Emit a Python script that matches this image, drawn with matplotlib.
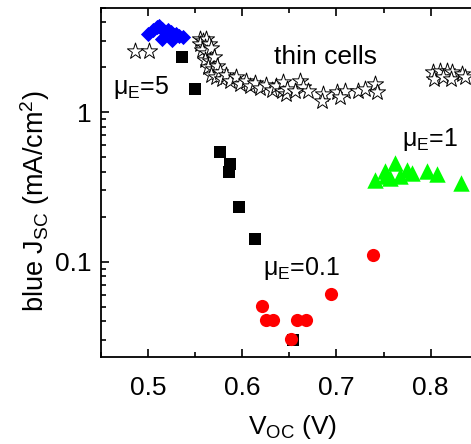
import matplotlib
matplotlib.use('Agg')
import matplotlib.pyplot as plt
from matplotlib.ticker import MultipleLocator, LogLocator, NullFormatter, FixedLocator, FixedFormatter

plt.rcParams['font.family'] = ['Liberation Sans', 'DejaVu Sans']
plt.rcParams['mathtext.fontset'] = 'custom'
plt.rcParams['mathtext.rm'] = 'Liberation Sans'
plt.rcParams['mathtext.it'] = 'Liberation Sans'

# thin cells (open stars)
star_v = [0.486, 0.501,
          0.555, 0.558, 0.561, 0.555, 0.560, 0.565, 0.557, 0.563, 0.567, 0.560,
          0.566, 0.570, 0.564, 0.569, 0.573, 0.567, 0.572, 0.576, 0.578, 0.583,
          0.587, 0.593, 0.598, 0.604, 0.608, 0.614, 0.619, 0.625, 0.632, 0.636,
          0.642, 0.646,
          0.643, 0.648, 0.661, 0.664, 0.670, 0.656, 0.686, 0.685, 0.701, 0.709,
          0.704, 0.723, 0.730, 0.741, 0.743,
          0.802, 0.810, 0.817, 0.823, 0.833, 0.804, 0.813, 0.822, 0.836]
star_j = [2.58, 2.58,
          3.10, 3.00, 3.10, 2.85, 2.75, 2.85, 2.60, 2.50, 2.70, 2.25,
          2.20, 2.35, 2.00, 1.95, 2.05, 1.78, 1.73, 1.85, 1.67, 1.77,
          1.61, 1.72, 1.54, 1.61, 1.49, 1.58, 1.45, 1.53, 1.41, 1.49,
          1.38, 1.33,
          1.59, 1.43, 1.61, 1.47, 1.38, 1.38, 1.32, 1.19, 1.36, 1.38,
          1.26, 1.38, 1.43, 1.54, 1.36,
          1.86, 1.88, 1.88, 1.86, 1.80, 1.67, 1.72, 1.67, 1.72]

# mu_E = 5 (blue diamonds)
dia_v = [0.500, 0.505, 0.509, 0.512, 0.515, 0.518, 0.521, 0.524, 0.527, 0.530,
         0.533, 0.537, 0.515, 0.525]
dia_j = [3.35, 3.55, 3.75, 3.78, 3.60, 3.45, 3.55, 3.45, 3.30, 3.35,
         3.25, 3.20, 3.10, 3.05]

# black squares
sq_v = [0.536, 0.550, 0.576, 0.587, 0.586, 0.596, 0.614, 0.654]
sq_j = [2.34, 1.43, 0.542, 0.448, 0.397, 0.233, 0.142, 0.030]

# mu_E = 0.1 (red circles)
red_v = [0.739, 0.694, 0.621, 0.625, 0.633, 0.658, 0.668, 0.652]
red_j = [0.111, 0.0607, 0.0507, 0.0404, 0.0404, 0.0404, 0.0404, 0.0303]

# mu_E = 1 (green triangles)
tri_v = [0.741, 0.751, 0.762, 0.753, 0.757, 0.767, 0.775, 0.780, 0.796, 0.807, 0.832]
tri_j = [0.355, 0.402, 0.461, 0.372, 0.366, 0.372, 0.414, 0.395, 0.402, 0.389, 0.339]

fig = plt.figure(figsize=(4.71, 4.44), dpi=100)
ax = fig.add_axes([0.2144, 0.196, 0.90, 0.786])

ax.scatter(star_v, star_j, marker='*', s=150, facecolors='white', edgecolors='black', linewidths=0.7, zorder=2)
ax.scatter(dia_v, dia_j, marker='D', s=60, color='#0000ff', linewidths=0, zorder=3)
ax.scatter(sq_v, sq_j, marker='s', s=70, color='black', linewidths=0, zorder=3)
ax.scatter(red_v, red_j, marker='o', s=90, color='#ff0000', linewidths=0, zorder=4)
ax.scatter(tri_v, tri_j, marker='^', s=140, color='#00ff00', linewidths=0, zorder=4)

ax.set_yscale('log')
ax.set_xlim(0.45, 0.90)
ax.set_ylim(0.023, 5.0)

ax.xaxis.set_major_locator(FixedLocator([0.5, 0.6, 0.7, 0.8]))
ax.xaxis.set_major_formatter(FixedFormatter(['0.5', '0.6', '0.7', '0.8']))
ax.xaxis.set_minor_locator(MultipleLocator(0.05))
ax.yaxis.set_major_locator(FixedLocator([0.1, 1]))
ax.yaxis.set_major_formatter(FixedFormatter(['0.1', '1']))
ax.yaxis.set_minor_locator(LogLocator(base=10, subs=range(2, 10)))
ax.yaxis.set_minor_formatter(NullFormatter())

ax.tick_params(which='both', direction='in', top=True, right=False, labelsize=19, width=1.2)
ax.tick_params(axis='x', which='both', pad=14)
ax.tick_params(axis='y', which='both', pad=7)
ax.tick_params(which='major', length=6)
ax.tick_params(which='minor', length=3.5)
for side in ['left', 'bottom', 'top']:
    ax.spines[side].set_linewidth(1.3)
ax.spines['right'].set_visible(False)

ax.set_xlabel(r'V$_{\rm OC}$ (V)', fontsize=19)
ax.set_ylabel(r'blue J$_{\rm SC}$ (mA/cm$^2$)', fontsize=19.5)
ax.xaxis.set_label_coords(0.453, -0.16)
ax.yaxis.set_label_coords(-0.115, 0.447)

ax.text(0.688, 2.10, 'thin cells', fontsize=19, ha='center', va='baseline')
ax.text(0.463, 1.32, r'$\mu_{\rm E}$=5', fontsize=18, ha='left', va='baseline')
ax.text(0.770, 0.591, r'$\mu_{\rm E}$=1', fontsize=18, ha='left', va='baseline')
ax.text(0.622, 0.0818, r'$\mu_{\rm E}$=0.1', fontsize=18, ha='left', va='baseline')

fig.savefig('out.png', dpi=100)
